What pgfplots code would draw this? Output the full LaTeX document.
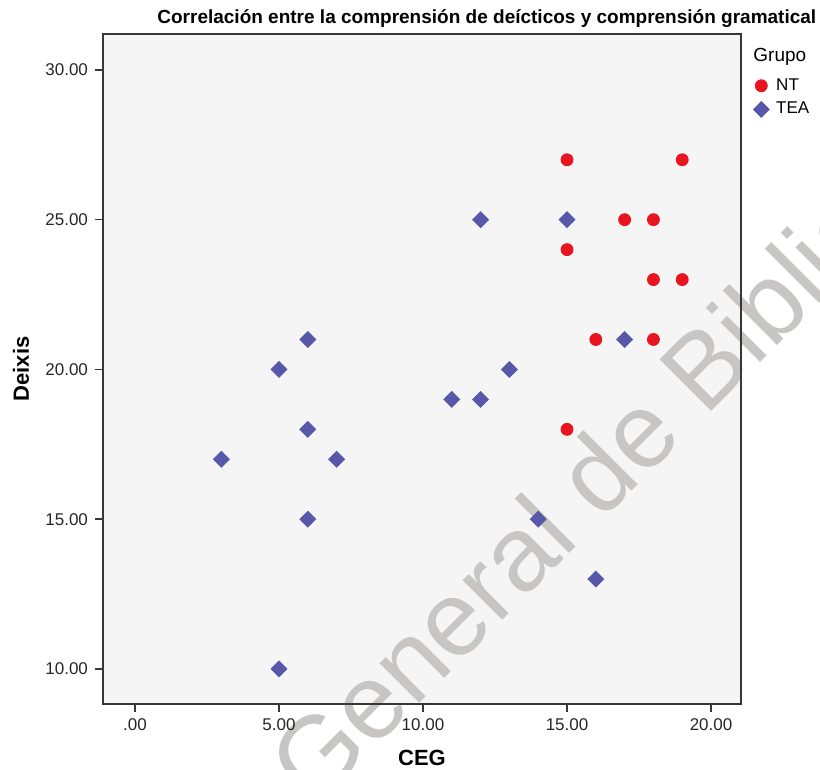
\documentclass[border=0pt]{standalone}
\usepackage{fontspec}
\setmainfont{Liberation Sans}
\usepackage{pgfplots}
\pgfplotsset{compat=1.18}
\definecolor{ntred}{RGB}{232,20,32}
\definecolor{teablue}{RGB}{88,88,170}
\definecolor{panel}{RGB}{245,245,245}
\definecolor{marca}{RGB}{200,197,197}
\definecolor{ejes}{RGB}{55,55,55}

\begin{document}
\begin{tikzpicture}
% picture frame: 1px = 0.5pt, axis box lower left at (0,0)
\path[use as bounding box] (-51.5pt,-33pt) rectangle (358.5pt,352pt);
\fill[panel] (0,0) rectangle (319pt,335pt);
% watermark
\node[anchor=base west, rotate=45, text=marca, inner sep=0pt,
      font=\fontsize{53}{60}\selectfont] at (105.5pt,-52.5pt) {General de Bibliotecas};
\begin{axis}[
  at={(0,0)}, anchor=south west,
  scale only axis, width=319pt, height=335pt,
  xmin=-1.11, xmax=21.04, ymin=8.83, ymax=31.2,
  axis background/.style={fill=none},
  axis line style={draw=ejes, line width=1.1pt},
  xtick={0,5,10,15,20}, xticklabels={.00,5.00,10.00,15.00,20.00},
  ytick={10,15,20,25,30}, yticklabels={10.00,15.00,20.00,25.00,30.00},
  xtick pos=bottom, ytick pos=left, tick align=outside,
  major tick length=4pt,
  tick style={draw=ejes, line width=0.8pt},
  ticklabel style={font=\fontsize{8.5}{10}\selectfont, text=black!85},
  xlabel={CEG}, ylabel={Deixis},
  label style={font=\fontsize{11}{13}\selectfont\bfseries},
  xlabel style={at={(axis description cs:0.5,-0.0925)}, anchor=base},
  ylabel style={at={(axis description cs:-0.1285,0.5)}, anchor=center},
  legend style={at={(axis description cs:1,1)}, anchor=north west,
    xshift=6pt, yshift=-20.5pt, draw=none, fill=none, inner sep=0pt,
    row sep=1.5pt, column sep=2pt,
    font=\fontsize{8.5}{10}\selectfont, nodes={inner sep=1.5pt}},
  legend cell align=left,
  legend image code/.code={\draw[#1] plot coordinates {(3pt,0pt)};},
]
\addplot[only marks, mark=*, mark size=3pt, color=ntred] coordinates {
  (15,27) (19,27) (17,25) (18,25) (15,24) (18,23) (19,23) (16,21) (18,21) (15,18)
};
\addlegendentry{NT}
\addplot[only marks, mark=square*, mark size=2.8pt, mark options={rotate=45}, color=teablue] coordinates {
  (12,25) (15,25) (6,21) (17,21) (5,20) (13,20) (11,19) (12,19) (6,18) (3,17)
  (7,17) (14,15) (6,15) (16,13) (5,10)
};
\addlegendentry{TEA}
\end{axis}
\node[anchor=base west, inner sep=0pt, font=\fontsize{9.5}{11}\selectfont\bfseries]
  at (27pt,340pt) {Correlación entre la comprensión de deícticos y comprensión gramatical};
\node[anchor=base west, inner sep=0pt, font=\fontsize{9.5}{11}\selectfont]
  at (325pt,321pt) {Grupo};
\end{tikzpicture}
\end{document}
